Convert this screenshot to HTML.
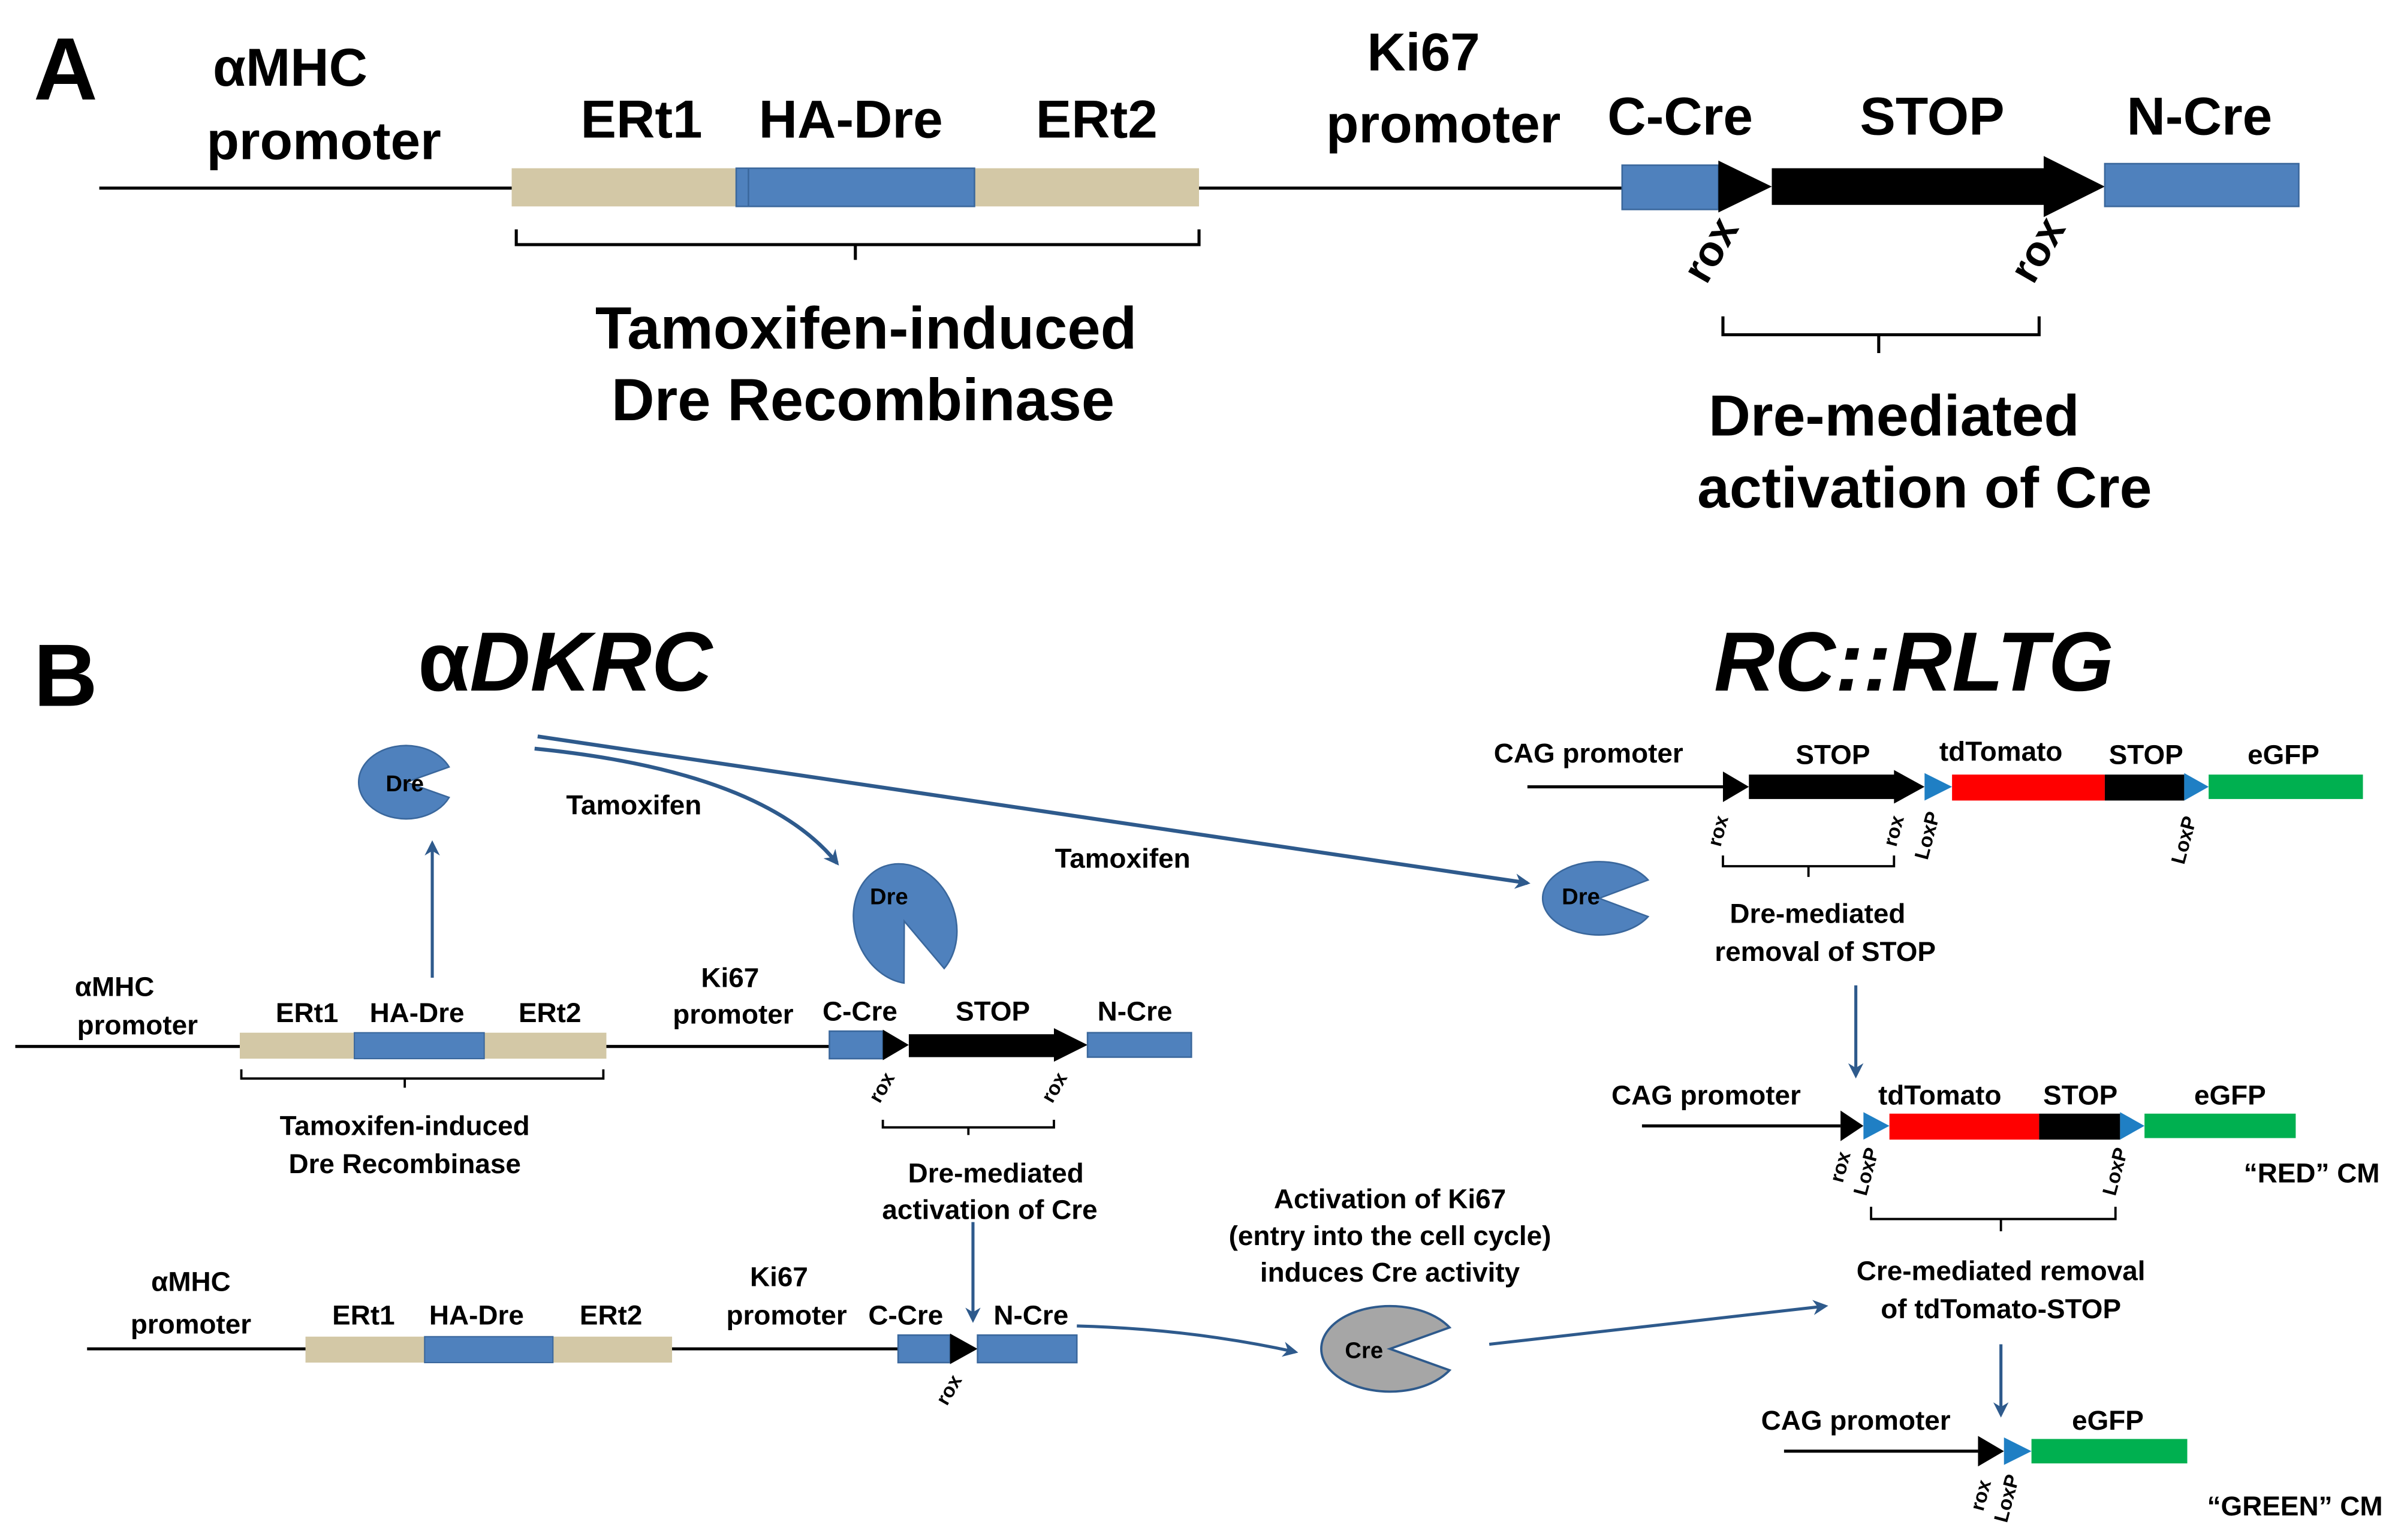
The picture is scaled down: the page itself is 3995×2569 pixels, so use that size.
<!DOCTYPE html>
<html><head><meta charset="utf-8"><style>
html,body{margin:0;padding:0;background:#fff}
svg{display:block}
text{font-family:"Liberation Sans",sans-serif;font-weight:bold;fill:#000}
</style></head><body>
<svg width="3995" height="2569" viewBox="0 0 1568 1008" xmlns="http://www.w3.org/2000/svg">
<defs>
<marker id="ah" markerWidth="10" markerHeight="10" refX="8" refY="5" orient="auto" markerUnits="userSpaceOnUse">
<path d="M0,0 L10,5 L0,10 L3,5 Z" fill="#2e5a8c"/></marker>
</defs>
<rect width="1568" height="1008" fill="#fff"/>

<!-- Panel A -->
<text x="22" y="65" font-size="58">A</text>
<text x="190" y="56" font-size="35" text-anchor="middle">αMHC</text>
<text x="212" y="104" font-size="35" text-anchor="middle">promoter</text>
<line x1="65" y1="123" x2="1062" y2="123" stroke="#000" stroke-width="2"/>
<rect x="335" y="110" width="450" height="25" fill="#d3c8a6"/>
<rect x="482" y="110" width="156" height="25" fill="#4f81bd" stroke="#3a679c" stroke-width="1"/>
<line x1="490" y1="110" x2="490" y2="135" stroke="#3a679c" stroke-width="1"/>
<text x="420" y="90" font-size="35" text-anchor="middle">ERt1</text>
<text x="557" y="90" font-size="35" text-anchor="middle">HA-Dre</text>
<text x="718" y="90" font-size="35" text-anchor="middle">ERt2</text>
<path d="M338,150 v10 h222 v10 M560,160 h225 v-10" fill="none" stroke="#000" stroke-width="2"/>
<text x="567" y="228" font-size="39" text-anchor="middle">Tamoxifen-induced</text>
<text x="565" y="275" font-size="39" text-anchor="middle">Dre Recombinase</text>
<text x="932" y="46" font-size="35" text-anchor="middle">Ki67</text>
<text x="945" y="93" font-size="35" text-anchor="middle">promoter</text>
<rect x="1062" y="108" width="63" height="29" fill="#4f81bd" stroke="#3a679c"/>
<polygon points="1125,105 1160,122 1125,139" fill="#000"/>
<rect x="1160" y="110" width="180" height="24" fill="#000"/>
<polygon points="1338,102 1378,122 1338,142" fill="#000"/>
<rect x="1378" y="107" width="127" height="28" fill="#4f81bd" stroke="#3a679c"/>
<text x="1100" y="88" font-size="35" text-anchor="middle">C-Cre</text>
<text x="1265" y="88" font-size="35" text-anchor="middle">STOP</text>
<text x="1440" y="88" font-size="35" text-anchor="middle">N-Cre</text>
<text x="0" y="0" font-size="28" text-anchor="middle" transform="translate(1128,168) rotate(-60)">rox</text>
<text x="0" y="0" font-size="28" text-anchor="middle" transform="translate(1342,168) rotate(-60)">rox</text>
<path d="M1128,207 v12 h102 v12 M1230,219 h105 v-12" fill="none" stroke="#000" stroke-width="2"/>
<text x="1240" y="285" font-size="38" text-anchor="middle">Dre-mediated</text>
<text x="1260" y="332" font-size="38" text-anchor="middle">activation of Cre</text>

<!-- Panel B -->
<text x="22" y="462" font-size="58">B</text>
<text x="370" y="452" font-size="55" text-anchor="middle">α<tspan font-style="italic">DKRC</tspan></text>
<text x="1253" y="452" font-size="55" font-style="italic" text-anchor="middle">RC::RLTG</text>

<!-- Dre pacmen -->
<path d="M266,512 L294,502 A31,24 0 1 0 294,522 Z" fill="#4f81bd" stroke="#3a679c"/>
<text x="265" y="518" font-size="15" text-anchor="middle">Dre</text>
<line x1="283" y1="640" x2="283" y2="552" stroke="#2e5a8c" stroke-width="2" marker-end="url(#ah)"/>
<text x="415" y="533" font-size="18" text-anchor="middle">Tamoxifen</text>
<path d="M350,490 Q500,505 548,565" fill="none" stroke="#2e5a8c" stroke-width="2.5" marker-end="url(#ah)"/>
<g transform="translate(592,603) rotate(70)"><path d="M0,0 L38,-14 A40,33 0 1 0 38,14 Z" fill="#4f81bd" stroke="#3a679c"/></g>
<text x="582" y="592" font-size="15" text-anchor="middle">Dre</text>
<path d="M352,482 L1000,578" fill="none" stroke="#2e5a8c" stroke-width="2.5" marker-end="url(#ah)"/>
<text x="735" y="568" font-size="18" text-anchor="middle">Tamoxifen</text>
<path d="M1047,588 L1079,576 A37,24 0 1 0 1079,600 Z" fill="#4f81bd" stroke="#3a679c"/>
<text x="1035" y="592" font-size="15" text-anchor="middle">Dre</text>

<!-- B row1 -->
<text x="75" y="652" font-size="18" text-anchor="middle">αMHC</text>
<text x="90" y="677" font-size="18" text-anchor="middle">promoter</text>
<line x1="10" y1="685" x2="543" y2="685" stroke="#000" stroke-width="2"/>
<rect x="157" y="676" width="240" height="17" fill="#d3c8a6"/>
<rect x="232" y="676" width="85" height="17" fill="#4f81bd" stroke="#3a679c" stroke-width="0.8"/>
<text x="201" y="669" font-size="18" text-anchor="middle">ERt1</text>
<text x="273" y="669" font-size="18" text-anchor="middle">HA-Dre</text>
<text x="360" y="669" font-size="18" text-anchor="middle">ERt2</text>
<path d="M158,700 v6 h107 v6 M265,706 h130 v-6" fill="none" stroke="#000" stroke-width="1.5"/>
<text x="265" y="743" font-size="18" text-anchor="middle">Tamoxifen-induced</text>
<text x="265" y="768" font-size="18" text-anchor="middle">Dre Recombinase</text>
<text x="478" y="646" font-size="18" text-anchor="middle">Ki67</text>
<text x="480" y="670" font-size="18" text-anchor="middle">promoter</text>
<rect x="543" y="675" width="35" height="18" fill="#4f81bd" stroke="#3a679c"/>
<polygon points="578,674 595,684 578,694" fill="#000"/>
<rect x="595" y="677" width="96" height="15" fill="#000"/>
<polygon points="690,673 712,684 690,695" fill="#000"/>
<rect x="712" y="676" width="68" height="16" fill="#4f81bd" stroke="#3a679c"/>
<text x="563" y="668" font-size="18" text-anchor="middle">C-Cre</text>
<text x="650" y="668" font-size="18" text-anchor="middle">STOP</text>
<text x="743" y="668" font-size="18" text-anchor="middle">N-Cre</text>
<text font-size="13" text-anchor="middle" transform="translate(581,714) rotate(-60)">rox</text>
<text font-size="13" text-anchor="middle" transform="translate(694,714) rotate(-60)">rox</text>
<path d="M578,733 v5 h56 v5 M634,738 h56 v-5" fill="none" stroke="#000" stroke-width="1.5"/>
<text x="652" y="774" font-size="18" text-anchor="middle">Dre-mediated</text>
<text x="648" y="798" font-size="18" text-anchor="middle">activation of Cre</text>
<line x1="637" y1="800" x2="637" y2="864" stroke="#2e5a8c" stroke-width="2" marker-end="url(#ah)"/>

<!-- B row2 -->
<text x="125" y="845" font-size="18" text-anchor="middle">αMHC</text>
<text x="125" y="873" font-size="18" text-anchor="middle">promoter</text>
<line x1="57" y1="883" x2="588" y2="883" stroke="#000" stroke-width="2"/>
<rect x="200" y="875" width="240" height="17" fill="#d3c8a6"/>
<rect x="278" y="875" width="84" height="17" fill="#4f81bd" stroke="#3a679c" stroke-width="0.8"/>
<text x="238" y="867" font-size="18" text-anchor="middle">ERt1</text>
<text x="312" y="867" font-size="18" text-anchor="middle">HA-Dre</text>
<text x="400" y="867" font-size="18" text-anchor="middle">ERt2</text>
<text x="510" y="842" font-size="18" text-anchor="middle">Ki67</text>
<text x="515" y="867" font-size="18" text-anchor="middle">promoter</text>
<rect x="588" y="874" width="34" height="18" fill="#4f81bd" stroke="#3a679c"/>
<polygon points="622,873 640,883 622,893" fill="#000"/>
<rect x="640" y="874" width="65" height="18" fill="#4f81bd" stroke="#3a679c"/>
<text x="593" y="867" font-size="18" text-anchor="middle">C-Cre</text>
<text x="675" y="867" font-size="18" text-anchor="middle">N-Cre</text>
<text font-size="13" text-anchor="middle" transform="translate(625,912) rotate(-60)">rox</text>
<path d="M705,868 Q780,870 848,885" fill="none" stroke="#2e5a8c" stroke-width="2" marker-end="url(#ah)"/>
<path d="M910,883 L949,869 A45,28 0 1 0 949,897 Z" fill="#a6a6a6" stroke="#2e5a8c" stroke-width="1.5"/>
<text x="893" y="889" font-size="15" text-anchor="middle">Cre</text>
<text x="910" y="791" font-size="18" text-anchor="middle">Activation of Ki67</text>
<text x="910" y="815" font-size="18" text-anchor="middle">(entry into the cell cycle)</text>
<text x="910" y="839" font-size="18" text-anchor="middle">induces Cre activity</text>
<line x1="975" y1="880" x2="1195" y2="855" stroke="#2e5a8c" stroke-width="2" marker-end="url(#ah)"/>

<!-- RC::RLTG row1 -->
<text x="1040" y="499" font-size="18" text-anchor="middle">CAG promoter</text>
<line x1="1000" y1="515" x2="1128" y2="515" stroke="#000" stroke-width="2"/>
<polygon points="1128,505 1145,515 1128,525" fill="#000"/>
<rect x="1145" y="507" width="96" height="16" fill="#000"/>
<polygon points="1240,504 1260,515 1240,526" fill="#000"/>
<polygon points="1260,506 1278,515 1260,524" fill="#1f7fc4"/>
<rect x="1278" y="507" width="100" height="17" fill="#f00"/>
<rect x="1378" y="507" width="52" height="17" fill="#000"/>
<polygon points="1430,506 1446,515 1430,524" fill="#1f7fc4"/>
<rect x="1446" y="507" width="101" height="16" fill="#00b050"/>
<text x="1200" y="500" font-size="18" text-anchor="middle">STOP</text>
<text x="1310" y="498" font-size="18" text-anchor="middle">tdTomato</text>
<text x="1405" y="500" font-size="18" text-anchor="middle">STOP</text>
<text x="1495" y="500" font-size="18" text-anchor="middle">eGFP</text>
<text font-size="13" text-anchor="middle" transform="translate(1129,545) rotate(-75)">rox</text>
<text font-size="13" text-anchor="middle" transform="translate(1244,545) rotate(-75)">rox</text>
<text font-size="13" text-anchor="middle" transform="translate(1266,548) rotate(-75)">LoxP</text>
<text font-size="13" text-anchor="middle" transform="translate(1434,551) rotate(-75)">LoxP</text>
<path d="M1128,560 v7 h56 v7 M1184,567 h56 v-7" fill="none" stroke="#000" stroke-width="1.5"/>
<text x="1190" y="604" font-size="18" text-anchor="middle">Dre-mediated</text>
<text x="1195" y="629" font-size="18" text-anchor="middle">removal of STOP</text>
<line x1="1215" y1="645" x2="1215" y2="704" stroke="#2e5a8c" stroke-width="2" marker-end="url(#ah)"/>

<!-- row2 -->
<text x="1117" y="723" font-size="18" text-anchor="middle">CAG promoter</text>
<line x1="1075" y1="737" x2="1205" y2="737" stroke="#000" stroke-width="2"/>
<polygon points="1205,727 1220,737 1205,747" fill="#000"/>
<polygon points="1220,728 1237,737 1220,746" fill="#1f7fc4"/>
<rect x="1237" y="729" width="98" height="17" fill="#f00"/>
<rect x="1335" y="729" width="53" height="17" fill="#000"/>
<polygon points="1388,728 1404,737 1388,746" fill="#1f7fc4"/>
<rect x="1404" y="729" width="99" height="16" fill="#00b050"/>
<text x="1270" y="723" font-size="18" text-anchor="middle">tdTomato</text>
<text x="1362" y="723" font-size="18" text-anchor="middle">STOP</text>
<text x="1460" y="723" font-size="18" text-anchor="middle">eGFP</text>
<text font-size="13" text-anchor="middle" transform="translate(1209,765) rotate(-75)">rox</text>
<text font-size="13" text-anchor="middle" transform="translate(1226,768) rotate(-75)">LoxP</text>
<text font-size="13" text-anchor="middle" transform="translate(1389,768) rotate(-75)">LoxP</text>
<text x="1558" y="774" font-size="18" text-anchor="end">“RED” CM</text>
<path d="M1225,790 v8 h85 v8 M1310,798 h75 v-8" fill="none" stroke="#000" stroke-width="1.5"/>
<text x="1310" y="838" font-size="18" text-anchor="middle">Cre-mediated removal</text>
<text x="1310" y="863" font-size="18" text-anchor="middle">of tdTomato-STOP</text>
<line x1="1310" y1="880" x2="1310" y2="926" stroke="#2e5a8c" stroke-width="2" marker-end="url(#ah)"/>

<!-- row3 -->
<text x="1215" y="936" font-size="18" text-anchor="middle">CAG promoter</text>
<line x1="1168" y1="950" x2="1295" y2="950" stroke="#000" stroke-width="2"/>
<polygon points="1295,940 1312,950 1295,960" fill="#000"/>
<polygon points="1312,941 1330,950 1312,959" fill="#1f7fc4"/>
<rect x="1330" y="942" width="102" height="16" fill="#00b050"/>
<text x="1380" y="936" font-size="18" text-anchor="middle">eGFP</text>
<text font-size="13" text-anchor="middle" transform="translate(1301,980) rotate(-75)">rox</text>
<text font-size="13" text-anchor="middle" transform="translate(1318,982) rotate(-75)">LoxP</text>
<text x="1560" y="992" font-size="18" text-anchor="end">“GREEN” CM</text>
</svg>
</body></html>
